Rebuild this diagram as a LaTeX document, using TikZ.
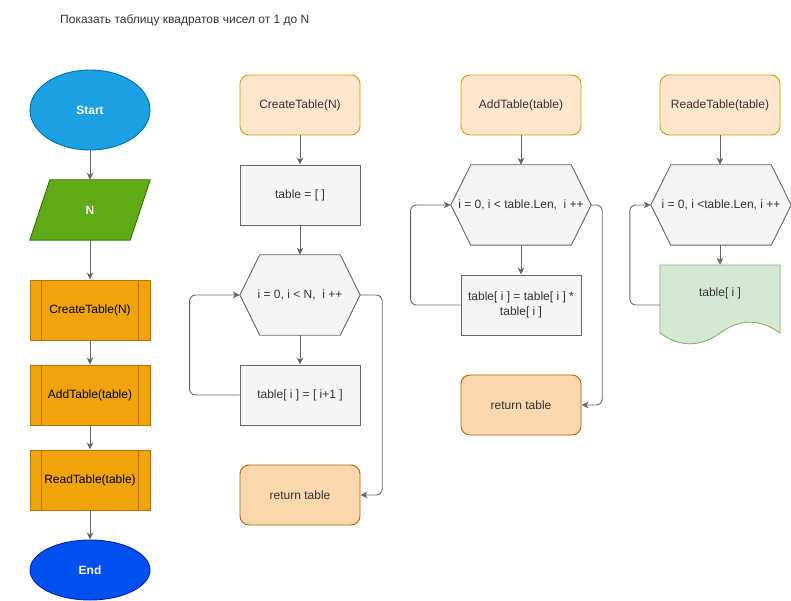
\documentclass[tikz,border=0pt]{standalone}
\usepackage{fontspec}
\setmainfont{Liberation Sans}
\usetikzlibrary{shapes.geometric,arrows.meta,backgrounds}

\definecolor{startfill}{HTML}{1BA1E2}
\definecolor{startline}{HTML}{006EAF}
\definecolor{endfill}{HTML}{0050EF}
\definecolor{endline}{HTML}{001DBC}
\definecolor{inputfill}{HTML}{60A917}
\definecolor{inputline}{HTML}{2D7600}
\definecolor{callfill}{HTML}{F0A30A}
\definecolor{callline}{HTML}{BD7000}
\definecolor{headfill}{HTML}{FFE6CC}
\definecolor{headline}{HTML}{D79B00}
\definecolor{opfill}{HTML}{F5F5F5}
\definecolor{opline}{HTML}{666666}
\definecolor{retfill}{HTML}{FAD7AC}
\definecolor{retline}{HTML}{B46504}
\definecolor{docfill}{HTML}{D5E8D4}
\definecolor{docline}{HTML}{82B366}
\definecolor{arrowgray}{HTML}{666666}
\definecolor{labelgray}{HTML}{333333}

% hexagonal loop header drawn behind its node
\newcommand{\loophex}[1]{%
  \begin{scope}[on background layer]
    \path[fill=opfill, draw=opline, line width=0.9pt, line join=round]
      (#1.west) -- ([xshift=20pt]#1.north west) -- ([xshift=-20pt]#1.north east)
      -- (#1.east) -- ([xshift=-20pt]#1.south east) -- ([xshift=20pt]#1.south west) -- cycle;
  \end{scope}}
% side bars of a predefined-process box
\newcommand{\procbars}[1]{%
  \draw[callline, line width=0.9pt] ([xshift=12pt]#1.north west) -- ([xshift=12pt]#1.south west);
  \draw[callline, line width=0.9pt] ([xshift=-12pt]#1.north east) -- ([xshift=-12pt]#1.south east);}

\begin{document}
\begin{tikzpicture}[x=1pt, y=-1pt,
  every node/.style={font=\fontsize{12}{15}\selectfont, align=center, inner sep=2pt},
  terminal/.style={ellipse, draw, line width=0.9pt, minimum width=120pt, inner sep=0pt,
    text=white, font=\fontsize{12}{15}\selectfont\bfseries},
  proc/.style={rectangle, draw=callline, fill=callfill, line width=0.9pt,
    minimum width=120pt, minimum height=60pt},
  funchead/.style={rectangle, rounded corners=9pt, draw=headline, fill=headfill, line width=0.9pt,
    minimum width=120pt, minimum height=60pt, text=labelgray},
  opbox/.style={rectangle, draw=opline, fill=opfill, line width=0.9pt,
    minimum width=120pt, minimum height=60pt, text=labelgray},
  retbox/.style={rectangle, rounded corners=9pt, draw=retline, fill=retfill, line width=0.9pt,
    minimum width=120pt, minimum height=60pt, text=labelgray},
  hexbox/.style={rectangle, minimum height=80pt, text=labelgray},
  flow/.style={draw=arrowgray, line width=0.9pt, rounded corners=6pt,
    -{Stealth[length=7pt, width=6.5pt, inset=2pt]}},
]
\useasboundingbox (0,0) rectangle (791,601);

% title
\node[anchor=west, text=labelgray] (title) at (58,20) {Показать таблицу квадратов чисел от 1 до N};

% ---- main program ----
\node[terminal, fill=startfill, draw=startline, minimum height=80pt] (start) at (90,110) {Start};
\node[rectangle, minimum width=120pt, minimum height=60pt, text=white,
      font=\fontsize{12}{15}\selectfont\bfseries] (inp) at (90,210) {N};
\begin{scope}[on background layer]
  \path[fill=inputfill, draw=inputline, line width=0.9pt]
    ([xshift=20pt]inp.north west) -- (inp.north east)
    -- ([xshift=-20pt]inp.south east) -- (inp.south west) -- cycle;
\end{scope}
\node[proc] (callc) at (90,310) {CreateTable(N)};
\procbars{callc}
\node[proc] (calla) at (90,395) {AddTable(table)};
\procbars{calla}
\node[proc] (callr) at (90,480) {ReadTable(table)};
\procbars{callr}
\node[terminal, fill=endfill, draw=endline, minimum height=60pt] (finish) at (90,570) {End};

\draw[flow] (start) -- (inp);
\draw[flow] (inp) -- (callc);
\draw[flow] (callc) -- (calla);
\draw[flow] (calla) -- (callr);
\draw[flow] (callr) -- (finish);

% ---- CreateTable ----
\node[funchead] (hc) at (300,105) {CreateTable(N)};
\node[opbox] (initc) at (300,195) {table = [ ]};
\node[hexbox, minimum width=120pt] (loopc) at (300,295) {i = 0, i < N,\ \ i ++};
\loophex{loopc}
\node[opbox] (bodyc) at (300,395) {table[ i ] = [ i+1 ]};
\node[retbox] (retc) at (300,495) {return table};

\draw[flow] (hc) -- (initc);
\draw[flow] (initc) -- (loopc);
\draw[flow] (loopc) -- (bodyc);
\draw[flow] (bodyc.west) -- ++(-50,0) |- (loopc.west);
\draw[flow] (loopc.east) -- ++(22,0) |- (retc.east);

% ---- AddTable ----
\node[funchead] (ha) at (521,105) {AddTable(table)};
\node[hexbox, minimum width=140pt] (loopa) at (521,205) {i = 0, i < table.Len,\ \ i ++};
\loophex{loopa}
\node[opbox] (bodya) at (521,305) {table[ i ] = table[ i ] *\\table[ i ]};
\node[retbox] (reta) at (521,405) {return table};

\draw[flow] (ha) -- (loopa);
\draw[flow] (loopa) -- (bodya);
\draw[flow] (bodya.west) -- ++(-50,0) |- (loopa.west);
\draw[flow] (loopa.east) -- ++(11,0) |- (reta.east);

% ---- ReadeTable ----
\node[funchead] (hr) at (720,105) {ReadeTable(table)};
\node[hexbox, minimum width=140pt] (loopr) at (721,205) {i = 0, i <table.Len, i ++};
\loophex{loopr}
\node[rectangle, minimum width=120pt, minimum height=56pt, text=labelgray] (outr) at (720,293) {table[ i ]};
\begin{scope}[on background layer]
  \path[fill=docfill, draw=docline, line width=0.9pt]
    (660,265) -- (780,265) -- (780,333)
    .. controls (760,318.6) and (740,318.6) .. (720,333)
    .. controls (700,347.4) and (680,347.4) .. (660,333) -- cycle;
\end{scope}

\draw[flow] (hr) -- (loopr.north -| hr.south);
\draw[flow] (loopr.south -| outr.north) -- (outr);
\draw[flow] ([yshift=-12pt]outr.west) -- ++(-30,0) |- (loopr.west);
\end{tikzpicture}
\end{document}
